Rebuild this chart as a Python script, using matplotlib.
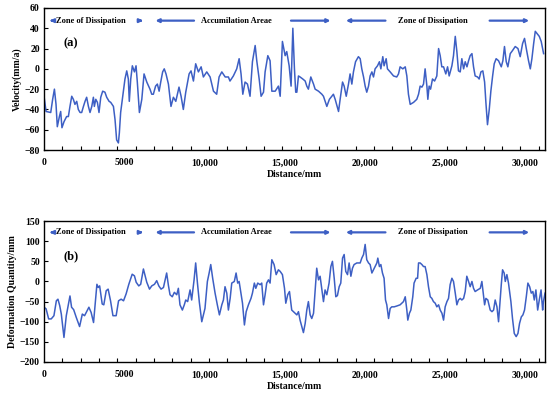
import numpy as np
import matplotlib
matplotlib.use("Agg")
import matplotlib.pyplot as plt
from matplotlib.ticker import FixedLocator, FuncFormatter

# (a) velocity along the profile
dist_a = [0, 130, 420, 540, 650, 750, 830, 960, 1040, 1120, 1250, 1410, 1520, 1620, 1730,
          1830, 1930, 2040, 2140, 2250, 2350, 2460, 2560, 2660, 2770, 2870, 2980, 3080, 3140,
          3230, 3330, 3430, 3540, 3660, 3800, 3910, 4060, 4160, 4330, 4430, 4530, 4640, 4700,
          4780, 4910, 5050, 5160, 5260, 5320, 5410, 5510, 5640, 5740, 5820, 5950, 6100, 6240,
          6410, 6610, 6720, 6820, 6960, 7070, 7180, 7280, 7400, 7500, 7610, 7760, 7920, 8070,
          8220, 8420, 8550, 8690, 8840, 9050, 9170, 9320, 9460, 9630, 9800, 9940, 10150, 10360,
          10570, 10770, 10920, 11090, 11300, 11500, 11600, 11810, 12020, 12170, 12290, 12400,
          12540, 12690, 12850, 13000, 13170, 13270, 13420, 13540, 13690, 13790, 13960, 14100,
          14210, 14420, 14620, 14730, 14870, 15040, 15140, 15290, 15410, 15520, 15620, 15700,
          15770, 15870, 15970, 16140, 16290, 16390, 16490, 16640, 16810, 16910, 17120, 17330,
          17430, 17640, 17800, 17950, 18050, 18160, 18370, 18470, 18620, 18720, 18850, 18990,
          19090, 19200, 19300, 19430, 19610, 19720, 19820, 19930, 20030, 20130, 20240, 20340,
          20450, 20550, 20650, 20800, 20920, 21010, 21130, 21210, 21340, 21420, 21590, 21800,
          22000, 22110, 22210, 22380, 22530, 22630, 22730, 22840, 23050, 23250, 23360, 23460,
          23570, 23670, 23770, 23880, 23940, 24020, 24110, 24230, 24360, 24500, 24610, 24710,
          24810, 24920, 25060, 25170, 25270, 25440, 25540, 25650, 25750, 25850, 25960, 26060,
          26170, 26270, 26380, 26480, 26580, 26690, 26790, 26890, 27040, 27140, 27250, 27370,
          27480, 27560, 27660, 27770, 27870, 27980, 28080, 28200, 28350, 28520, 28620, 28720,
          28830, 28930, 29080, 29220, 29390, 29560, 29700, 29850, 29970, 30080, 30220, 30330,
          30430, 30540, 30640, 30740, 30890, 31010, 31160]
vel_a = [-27, -42, -43, -30, -20, -35, -57, -47, -42, -58, -52, -47, -47, -37, -27,
         -30, -35, -32, -40, -43, -43, -37, -32, -28, -37, -43, -37, -28, -37,
         -30, -33, -43, -28, -22, -23, -28, -32, -33, -37, -50, -70, -73, -63,
         -43, -27, -10, -2, -10, -32, -10, 3, -3, 3, -13, -43, -30, -5,
         -13, -20, -25, -25, -17, -15, -22, -13, -3, 0, -5, -15, -37, -28,
         -32, -18, -27, -40, -23, -5, -2, -12, 5, -3, 2, -8, -3, -8,
         -22, -25, -8, -3, -8, -8, -12, -7, 0, 10, -5, -25,
         -13, -15, -27, 7, 23, 8, -10, -27, -23, -3, 13, 8,
         -22, -22, -17, -27, 27, 13, 17, 3, -17, 40, 0, -23,
         -23, -7, -8, -10, -12, -17, -20, -8, -15, -20, -22, -25,
         -27, -37, -30, -27, -25, -30, -42, -30, -13, -17, -27, -15,
         -5, -15, -3, 7, 12, 10, 0, -8, -17, -23, -17, -7,
         -3, -8, 0, 3, 7, 0, 12, 3, 10, 0, -3, -7,
         -8, -5, 2, 0, 2, -7, -25, -35, -33, -30, -25, -17,
         -18, -15, 0, -17, -30, -17, -20, -10, -12, -7, 20, 13,
         2, 2, -5, 2, -7, 3, 13, 32, 17, -2, -3, 10,
         0, 7, 2, 8, 13, 15, 2, -7, -8, -10, -3, -2,
         -13, -33, -55, -40, -22, -7, 5, 10, 8, 2, 8, 22,
         7, 2, 15, 18, 22, 20, 12, 25, 30, 20, 8, 0,
         10, 25, 37, 35, 32, 27, 15]

# (b) deformation quantity along the profile
dist_b = [0, 130, 290, 450, 620, 770, 870, 980, 1080, 1245, 1390, 1490, 1620, 1720, 1850,
          2010, 2220, 2390, 2530, 2680, 2800, 2940, 3090, 3300, 3380, 3470, 3630, 3730, 3880,
          4000, 4150, 4300, 4500, 4650, 4810, 4960, 5120, 5290, 5500, 5640, 5750, 5910, 6030,
          6200, 6310, 6410, 6580, 6720, 6890, 7030, 7160, 7300, 7450, 7650, 7760, 7860, 8000,
          8130, 8280, 8380, 8480, 8630, 8750, 8840, 8960, 9110, 9210, 9360, 9460, 9570, 9690,
          9840, 9940, 10040, 10190, 10300, 10400, 10520, 10670, 10810, 10940, 11090, 11190,
          11290, 11400, 11500, 11610, 11710, 11870, 11980, 12080, 12170, 12270, 12380, 12500,
          12610, 12750, 12910, 13000, 13120, 13210, 13330, 13480, 13580, 13690, 13790, 13890,
          14000, 14100, 14210, 14350, 14480, 14620, 14730, 14870, 15000, 15080, 15200, 15310,
          15450, 15560, 15660, 15770, 15870, 15970, 16080, 16180, 16290, 16390, 16490, 16600,
          16700, 16810, 16910, 17010, 17120, 17220, 17330, 17430, 17530, 17640, 17780, 17890,
          17990, 18100, 18200, 18300, 18410, 18510, 18620, 18720, 18820, 18930, 19030, 19140,
          19240, 19340, 19510, 19720, 19820, 19930, 20030, 20130, 20240, 20340, 20450, 20550,
          20650, 20760, 20820, 20920, 21010, 21110, 21210, 21300, 21380, 21490, 21590, 21690,
          21840, 22000, 22210, 22420, 22530, 22630, 22690, 22790, 22880, 23000, 23080, 23210,
          23300, 23360, 23460, 23570, 23670, 23770, 23880, 23980, 24090, 24190, 24290, 24400,
          24500, 24610, 24710, 24820, 24920, 25020, 25130, 25230, 25330, 25440, 25540, 25650,
          25750, 25850, 25960, 26060, 26170, 26270, 26370, 26480, 26580, 26690, 26790, 26890,
          27040, 27210, 27310, 27410, 27480, 27560, 27680, 27830, 27940, 28040, 28140, 28250,
          28350, 28410, 28520, 28600, 28700, 28770, 28870, 28970, 29120, 29220, 29330, 29450,
          29560, 29660, 29770, 29870, 29970, 30080, 30180, 30290, 30390, 30490, 30580, 30680,
          30790, 30890, 31000, 31100, 31150, 31250]
defo_b = [-64, -68, -93, -93, -85, -48, -44, -60, -81, -139, -85, -64, -36, -64, -70,
          -89, -112, -81, -85, -73, -64, -77, -102, -7, -15, -11, -56, -58, -23,
          -19, -48, -85, -85, -48, -44, -48, -31, -7, 18, 14, -2, -11, -7,
          31, 14, -2, -19, -11, -7, 2, -11, -19, -15, 21, -10, -33, -38,
          -27, -33, -17, -58, -71, -58, -46, -50, -21, -46, 4, 46, -4, -52,
          -100, -83, -67, 0, 21, 42, 8, -29, -58, -83, -58, -46,
          -13, -29, -71, -42, -4, 0, 21, -4, 0, -25, -54, -108,
          -75, -58, -42, -29, -4, -17, -4, -8, -4, -58, -33, -4,
          4, -4, 54, 42, 17, 29, 25, 17, -17, -54, -33, -25,
          -71, -75, -79, -83, -75, -96, -112, -127, -104, -71, -50, -83,
          -92, -79, -21, 33, 4, 13, -21, -50, -21, -33, -4, 37,
          50, 8, -38, -35, -13, -4, 58, 67, 25, 17, 46, 13,
          33, 42, 46, 46, 58, 67, 92, 54, 46, 42, 21, 29,
          37, 46, 58, 37, 42, 21, 8, -46, -58, -92, -67, -63,
          -63, -61, -58, -50, -38, -71, -96, -79, -71, -38, -4, 8,
          8, 46, 46, 42, 37, 37, 17, -13, -38, -42, -50, -54,
          -63, -58, -71, -79, -96, -63, -50, -42, -8, 8, 0, -29,
          -58, -46, -42, -46, -42, -25, 13, 0, -13, 0, -17, -25,
          -21, -17, 0, -33, -58, -42, -46, -71, -75, -71, -46, -63,
          -100, -67, -8, 29, 21, 0, 17, -4, -50, -92, -129, -137,
          -129, -104, -88, -83, -71, -38, -4, -13, -29, -25, -46, -21,
          -71, -46, -21, -71, -50, -29]

x_max = 31250
line_color = "#3D5FC4"
serif = ["Liberation Serif", "DejaVu Serif"]

plt.rcParams["font.family"] = serif
plt.rcParams["font.weight"] = "bold"

fig = plt.figure(figsize=(5.5, 3.98), dpi=100)
ax_a = fig.add_axes([0.080, 0.623, 0.911, 0.357])
ax_b = fig.add_axes([0.080, 0.0905, 0.911, 0.354])


def dist_fmt(x, pos):
    return f"{int(x)}" if x < 10000 else f"{int(x):,}"


def style_axis(ax, ylim, ystep):
    ax.set_xlim(0, x_max)
    ax.set_ylim(*ylim)
    ax.set_yticks(np.arange(ylim[0], ylim[1] + 1, ystep))
    ax.set_xticks(np.arange(0, 30001, 5000))
    ax.xaxis.set_major_formatter(FuncFormatter(dist_fmt))
    ax.xaxis.set_minor_locator(FixedLocator(np.arange(0, x_max, 1143)))
    ax.tick_params(axis="x", which="major", length=0, labelsize=7, pad=6)
    ax.tick_params(axis="x", which="minor", direction="in", length=3, width=0.8)
    ax.tick_params(axis="y", direction="in", length=3, width=0.8, labelsize=7, pad=3)
    for lab in ax.get_xticklabels() + ax.get_yticklabels():
        lab.set_fontweight("bold")
    for sp in ax.spines.values():
        sp.set_linewidth(1.0)
    ax.set_xlabel("Distance/mm", fontsize=7, fontweight="bold", labelpad=2)


def zone_labels(ax, y):
    arrow = dict(arrowstyle="-|>", color=line_color, lw=1.6, mutation_scale=5)
    ax.annotate("", xy=(190, y), xytext=(700, y), arrowprops=arrow)
    ax.text(720, y, "Zone of Dissipation", fontsize=6, fontweight="bold", va="center")
    ax.annotate("", xy=(6350, y), xytext=(5780, y), arrowprops=arrow)
    ax.annotate("", xy=(6780, y), xytext=(9530, y), arrowprops=arrow)
    ax.text(12020, y, "Accumilation Areae", fontsize=6, fontweight="bold",
            va="center", ha="center")
    ax.annotate("", xy=(18040, y), xytext=(15230, y), arrowprops=arrow)
    ax.annotate("", xy=(18660, y), xytext=(21470, y), arrowprops=arrow)
    ax.text(24270, y, "Zone of Dissipation", fontsize=6, fontweight="bold",
            va="center", ha="center")
    ax.annotate("", xy=(30430, y), xytext=(27620, y), arrowprops=arrow)


ax_a.plot(dist_a, vel_a, color=line_color, lw=1.1)
style_axis(ax_a, (-80, 60), 20)
ax_a.set_ylabel("Velocity(mm/a)", fontsize=7, fontweight="bold", labelpad=2)
zone_labels(ax_a, 47.5)
ax_a.text(1200, 25, "(a)", fontsize=9, fontweight="bold", va="center")

ax_b.plot(dist_b, defo_b, color=line_color, lw=1.1)
style_axis(ax_b, (-200, 150), 50)
ax_b.set_ylabel("Deformation Quantity/mm", fontsize=7, fontweight="bold", labelpad=2)
zone_labels(ax_b, 122)
ax_b.text(1200, 63, "(b)", fontsize=9, fontweight="bold", va="center")

fig.savefig("out.png", dpi=100)
